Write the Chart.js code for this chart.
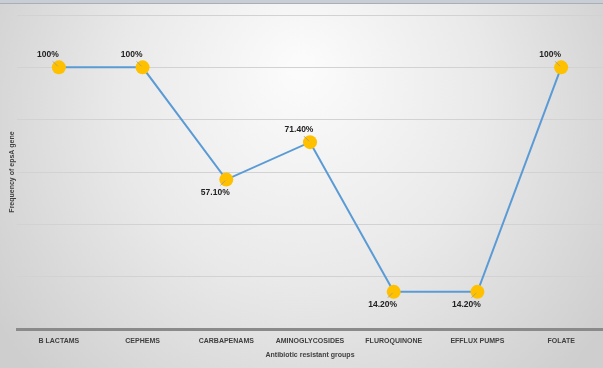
<!DOCTYPE html>
<html>
<head>
<meta charset="utf-8">
<script src="https://cdn.jsdelivr.net/npm/chart.js@4/dist/chart.umd.min.js"></script>
<style>
html,body{margin:0;padding:0;background:#e6e6e6;}
#wrap{width:603px;height:368px;position:relative;}
</style>
</head>
<body>
<div id="wrap"><canvas id="c" width="603" height="368"></canvas></div>
<script>
const categories = ["B LACTAMS","CEPHEMS","CARBAPENAMS","AMINOGLYCOSIDES","FLUROQUINONE","EFFLUX PUMPS","FOLATE"];
const frequencyValues = [100, 100, 57.1, 71.4, 14.2, 14.2, 100];
const valueLabels = ["100%","100%","57.10%","71.40%","14.20%","14.20%","100%"];
const yTicks = [0, 20, 40, 60, 80, 100, 120];

const bgPlugin = {
  id: 'bg',
  beforeDraw(chart) {
    const ctx = chart.ctx, w = chart.width, h = chart.height;
    ctx.save();
    const g = ctx.createRadialGradient(w*0.5, h*0.18, 10, w*0.5, h*0.35, w*0.6);
    g.addColorStop(0, '#fbfbfb');
    g.addColorStop(0.5, '#e9e9e9');
    g.addColorStop(1, '#cecece');
    ctx.fillStyle = g;
    ctx.fillRect(0, 0, w, h);
    ctx.fillStyle = '#c9ced5';
    ctx.fillRect(0, 0, w, 3);
    ctx.fillStyle = '#a9afb7';
    ctx.fillRect(0, 3, w, 1);
    ctx.restore();
  }
};

const labelPlugin = {
  id: 'vlabels',
  afterDatasetsDraw(chart) {
    const ctx = chart.ctx;
    const meta = chart.getDatasetMeta(0);
    ctx.save();
    ctx.font = 'bold 8.5px "Liberation Sans", Arial, sans-serif';
    ctx.fillStyle = '#222';
    ctx.textAlign = 'center';
    ctx.textBaseline = 'middle';
    meta.data.forEach((pt, i) => {
      const v = frequencyValues[i];
      const above = v >= 60;
      const dx = -11, dy = above ? -13 : 13;
      ctx.strokeStyle = '#9a9a9a';
      ctx.lineWidth = 0.8;
      ctx.beginPath();
      ctx.moveTo(pt.x - 1, pt.y + (above ? -1 : 1));
      ctx.lineTo(pt.x - 6, pt.y + (above ? -6 : 6));
      ctx.stroke();
      ctx.fillText(valueLabels[i], pt.x + dx, pt.y + dy);
    });
    ctx.restore();
  }
};

new Chart(document.getElementById('c'), {
  type: 'line',
  data: {
    labels: categories,
    datasets: [{
      data: frequencyValues,
      borderColor: '#5b9bd5',
      borderWidth: 2,
      pointBackgroundColor: '#ffc000',
      pointBorderColor: '#ffc000',
      pointRadius: 7,
      pointBorderWidth: 0,
      tension: 0,
      clip: false
    }]
  },
  options: {
    responsive: false,
    animation: false,
    devicePixelRatio: 1,
    layout: { autoPadding: false, padding: { top: 15, right: 0, left: 8, bottom: 9 } },
    plugins: { legend: { display: false }, tooltip: { enabled: false } },
    scales: {
      x: {
        offset: true,
        grid: { display: false, drawTicks: false },
        border: { display: true, color: '#8a8a8a', width: 3 },
        ticks: { color: '#404040', font: { family: '"Liberation Sans", Arial, sans-serif', size: 7, weight: 'bold' }, padding: 8, maxRotation: 0, autoSkip: false },
        title: { display: true, text: 'Antibiotic resistant groups', color: '#404040', font: { family: '"Liberation Sans", Arial, sans-serif', size: 7, weight: 'bold' }, padding: { top: 3, bottom: 0 } },
        afterFit(s) { s.height = 30; s.paddingLeft = 0; s.paddingRight = 0; }
      },
      y: {
        min: 0, max: 120,
        afterBuildTicks(s) { s.ticks = yTicks.map(v => ({ value: v })); },
        grid: { color: '#d2d2d2', lineWidth: 1, drawTicks: false },
        border: { display: false },
        ticks: { display: false },
        title: { display: true, text: 'Frequency of epsA gene', color: '#404040', font: { family: '"Liberation Sans", Arial, sans-serif', size: 7, weight: 'bold' }, padding: 0 },
        afterFit(s) { s.width = 9; }
      }
    }
  },
  plugins: [bgPlugin, labelPlugin]
});
</script>
</body>
</html>
